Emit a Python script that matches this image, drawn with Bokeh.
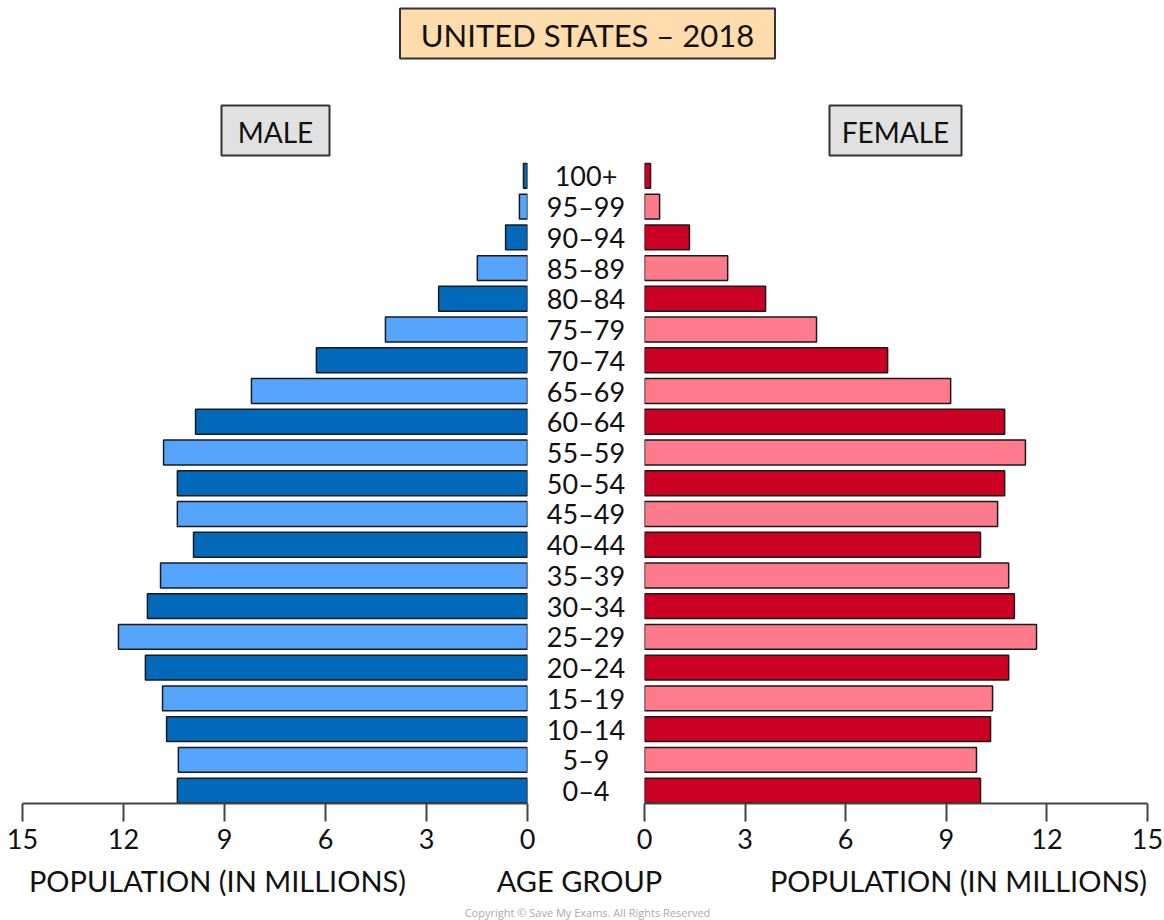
from bokeh.plotting import figure
from bokeh.layouts import column, row
from bokeh.models import Range1d, FixedTicker, ColumnDataSource
from bokeh.core.properties import value
from bokeh.embed import file_html
from bokeh.resources import INLINE

# ---------------- data ----------------
age_groups = ["0–4", "5–9", "10–14", "15–19", "20–24", "25–29", "30–34", "35–39",
              "40–44", "45–49", "50–54", "55–59", "60–64", "65–69", "70–74",
              "75–79", "80–84", "85–89", "90–94", "95–99", "100+"]
male = [10.4, 10.37, 10.72, 10.84, 11.35, 12.15, 11.29, 10.9, 9.92, 10.4, 10.4,
        10.81, 9.86, 8.2, 6.27, 4.22, 2.64, 1.49, 0.65, 0.24, 0.12]
female = [10.02, 9.9, 10.32, 10.38, 10.86, 11.69, 11.03, 10.86, 10.02, 10.53, 10.74,
          11.36, 10.74, 9.13, 7.25, 5.13, 3.61, 2.48, 1.34, 0.45, 0.18]
ticks = [0, 3, 6, 9, 12, 15]
title_text = "UNITED STATES – 2018"
male_title = "MALE"
female_title = "FEMALE"
axis_title = "POPULATION (IN MILLIONS)"
center_title = "AGE GROUP"
copyright_text = "Copyright © Save My Exams. All Rights Reserved"

FONT = "Lato"
TXT = "#111111"
male_colors = ["#0069b9" if i % 2 == 0 else "#55a5ff" for i in range(len(age_groups))]
female_colors = ["#cc0022" if i % 2 == 0 else "#ff7b8b" for i in range(len(age_groups))]
ypos = list(range(len(age_groups)))

src = ColumnDataSource(dict(y=ypos, label=age_groups, male=male, female=female,
                            mc=male_colors, fc=female_colors,
                            zero=[0] * len(ypos), mid=[0.5] * len(ypos)))

Y0, Y1 = -0.42, 20.5
FRAME_H = 643
BB = 60  # bottom border of bar panels


def base_fig(fw, xr, bl, br):
    p = figure(frame_width=fw, frame_height=FRAME_H, x_range=xr,
               y_range=Range1d(Y0, Y1), output_backend="svg", toolbar_location=None,
               min_border_left=bl, min_border_right=br, min_border_top=0,
               min_border_bottom=BB)
    p.yaxis.visible = False
    p.grid.visible = False
    p.outline_line_color = None
    p.background_fill_color = None
    p.border_fill_color = None
    return p


def style_axis(p):
    ax = p.xaxis[0]
    ax.ticker = FixedTicker(ticks=ticks)
    ax.major_label_text_font = FONT
    ax.major_label_text_font_size = "27px"
    ax.major_label_text_color = TXT
    ax.major_label_standoff = 7
    ax.major_tick_out = 18
    ax.major_tick_in = 0
    ax.minor_tick_line_color = None
    ax.axis_line_color = "#444444"
    ax.axis_line_width = 2
    ax.major_tick_line_color = "#444444"
    ax.major_tick_line_width = 2


# left (male)
pl = base_fig(505, Range1d(15, 0), 22, 10)
pl.hbar(y="y", left="zero", right="male", height=0.81, source=src,
        fill_color="mc", line_color="#1a1a1a", line_width=1.5)
style_axis(pl)

# center (age labels)
pc = base_fig(97, Range1d(0, 1), 0, 0)
pc.xaxis.visible = False
pc.text(x="mid", y="y", text="label", source=src, text_align="center",
        text_baseline="middle", text_font=value(FONT), text_font_size="27px",
        text_color=TXT)

# right (female)
pr = base_fig(503, Range1d(0, 15), 10, 17)
pr.hbar(y="y", left="zero", right="female", height=0.81, source=src,
        fill_color="fc", line_color="#1a1a1a", line_width=1.5)
style_axis(pr)


def strip(h):
    p = figure(width=1164, height=h, x_range=Range1d(0, 1164), y_range=Range1d(h, 0),
               output_backend="svg", toolbar_location=None,
               min_border_left=0, min_border_right=0, min_border_top=0,
               min_border_bottom=0)
    p.axis.visible = False
    p.grid.visible = False
    p.outline_line_color = None
    return p


# header with boxed titles
pt = strip(160)
pt.rect(x=[587], y=[33], width=[375], height=[50], fill_color="#fedcab",
        line_color="#333333", line_width=2)
pt.rect(x=[275, 895], y=[130, 130], width=[108, 132], height=[50, 50],
        fill_color="#e1e1e1", line_color="#333333", line_width=2)
pt.text(x=[587], y=[34], text=[title_text], text_align="center", text_baseline="middle",
        text_font=value(FONT), text_font_size="31px", text_color=TXT)
pt.text(x=[275, 895], y=[131, 131], text=[male_title, female_title], text_align="center",
        text_baseline="middle", text_font=value(FONT), text_font_size="28px",
        text_color=TXT)

# footer with axis titles and copyright
pb = strip(57)
pb.text(x=[217, 579, 958], y=[17, 17, 17], text=[axis_title, center_title, axis_title],
        text_align="center", text_baseline="middle", text_font=value(FONT),
        text_font_size="29px", text_color=TXT)
pb.text(x=[587], y=[49], text=[copyright_text], text_align="center",
        text_baseline="middle", text_font=value("Open Sans"), text_font_size="11px",
        text_color="#aaaaaa")

layout = column(pt, row(pl, pc, pr), pb)
open("out.html", "w").write(file_html(layout, INLINE))
